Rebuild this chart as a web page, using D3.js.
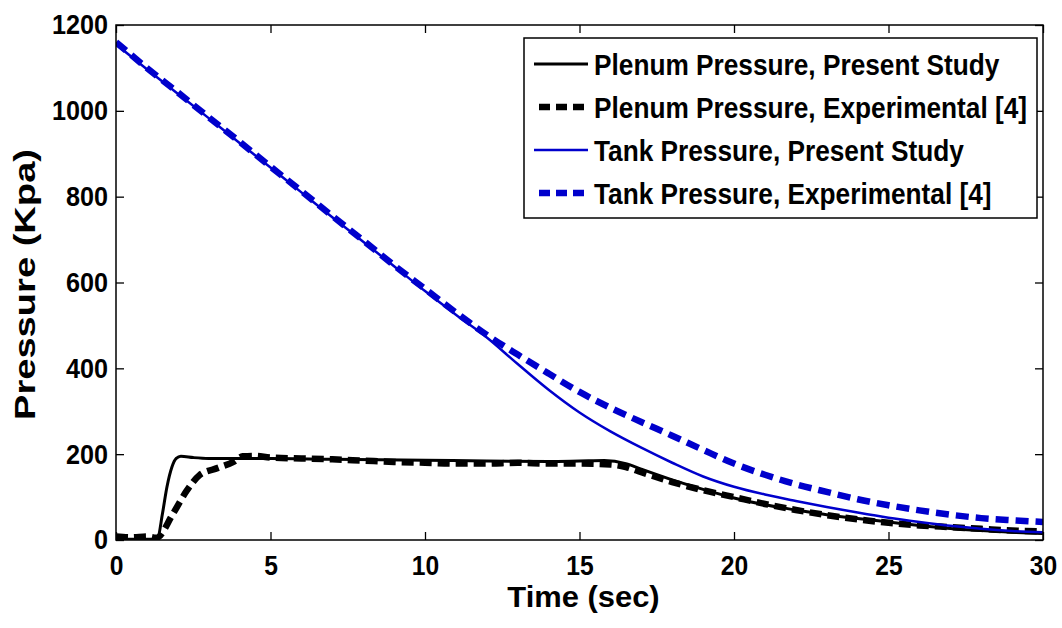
<!DOCTYPE html>
<html>
<head>
<meta charset="utf-8">
<script src="https://cdn.jsdelivr.net/npm/d3@7"></script>
<style>
  html, body { margin: 0; padding: 0; background: #fff; }
  svg { display: block; }
  text { font-family: "Liberation Sans", Arial, Helvetica, sans-serif; font-weight: bold; fill: #000; }
</style>
</head>
<body>
<svg id="chart" width="1062" height="628"></svg>
<script>
// ---- data ----
const plenumPresentT = [0, 1.2, 1.35, 1.5, 1.65, 1.81, 1.95, 2.1, 2.5, 3, 4, 5, 7, 10, 12, 14, 15, 15.8, 16.5, 17, 18, 19, 20, 21, 22, 23, 24, 25, 26, 27, 28, 29, 30];
const plenumPresentP = [2, 2, 5, 60, 124, 170, 190, 195, 192, 190, 190, 190, 188, 186, 184, 183, 184, 185, 178, 165, 140, 118, 98, 82, 70, 59, 50, 42, 34, 27, 22, 18, 15];

const plenumExpT = [0, 0.5, 1, 1.3, 1.85, 2.3, 2.7, 3.3, 3.8, 4.1, 4.5, 5, 6, 7, 8, 9, 10, 11, 12, 13, 14, 15, 16, 16.5, 17, 18, 19, 20, 21, 22, 23, 24, 25, 26, 27, 28, 29, 30];
const plenumExpP = [8, 6, 8, 5, 62, 116, 151, 168, 182, 195, 196, 192, 190, 188, 185, 182, 180, 178, 178, 180, 178, 178, 176, 170, 158, 135, 116, 100, 84, 70, 58, 48, 40, 34, 30, 26, 22, 20, 19];

const tankPresentT = [0, 1, 2, 3, 4, 5, 6, 7, 8, 9, 10, 11, 12, 13, 14, 15, 16, 17, 18, 19, 20, 21, 22, 23, 24, 25, 26, 27, 28, 29, 30];
const tankPresentP = [1155, 1097, 1040, 983, 925, 868, 810, 752, 695, 638, 580, 525, 472, 410, 350, 297, 253, 215, 180, 148, 124, 106, 91, 77, 64, 52, 42, 33, 26, 21, 18];

const tankExpT = [0, 1, 2, 3, 4, 5, 6, 7, 8, 9, 10, 11, 12, 13, 14, 15, 16, 17, 18, 19, 20, 21, 22, 23, 24, 25, 26, 27, 28, 29, 30];
const tankExpP = [1160, 1100, 1043, 985, 928, 870, 813, 755, 698, 640, 585, 530, 478, 432, 388, 345, 308, 275, 243, 210, 178, 152, 130, 112, 95, 81, 69, 59, 51, 46, 42];

const xTicks = [0, 5, 10, 15, 20, 25, 30];
const yTicks = [0, 200, 400, 600, 800, 1000, 1200];

const seriesNames = [
  "Plenum Pressure, Present Study",
  "Plenum Pressure, Experimental [4]",
  "Tank Pressure, Present Study",
  "Tank Pressure, Experimental [4]"
];
const xTitle = "Time (sec)";
const yTitle = "Pressure (Kpa)";

// ---- layout / style ----
const W = 1062, H = 628;
const plot = { left: 116, right: 1043, top: 25, bottom: 540 };
const styles = [
  { color: "#000000", width: 3, dash: null },
  { color: "#000000", width: 6.5, dash: "12,6" },
  { color: "#0000cc", width: 2.5, dash: null },
  { color: "#0000cc", width: 6.5, dash: "13,7" }
];

const svg = d3.select("#chart");
svg.append("rect").attr("width", W).attr("height", H).attr("fill", "#fff");

const x = d3.scaleLinear().domain([0, 30]).range([plot.left, plot.right]);
const y = d3.scaleLinear().domain([0, 1200]).range([plot.bottom, plot.top]);

function condense(sel, factor) {
  sel.each(function () {
    const len = this.getComputedTextLength();
    d3.select(this).attr("textLength", len * factor).attr("lengthAdjust", "spacingAndGlyphs");
  });
}

// clip
svg.append("defs").append("clipPath").attr("id", "clip")
  .append("rect").attr("x", plot.left).attr("y", plot.top)
  .attr("width", plot.right - plot.left).attr("height", plot.bottom - plot.top);

// series lines
const series = [
  [plenumPresentT, plenumPresentP],
  [plenumExpT, plenumExpP],
  [tankPresentT, tankPresentP],
  [tankExpT, tankExpP]
];
const line = d3.line().x(d => x(d[0])).y(d => y(d[1])).curve(d3.curveMonotoneX);
const gLines = svg.append("g").attr("clip-path", "url(#clip)");
series.forEach((s, i) => {
  const pts = s[0].map((t, k) => [t, s[1][k]]);
  const p = gLines.append("path").datum(pts)
    .attr("d", line)
    .attr("fill", "none")
    .attr("stroke", styles[i].color)
    .attr("stroke-width", styles[i].width)
    .attr("stroke-linejoin", "round");
  if (styles[i].dash) p.attr("stroke-dasharray", styles[i].dash).attr("stroke-linecap", "butt");
});

// axes
const tickLen = 8;
const gx = svg.append("g").attr("transform", `translate(0,${plot.bottom})`)
  .call(d3.axisBottom(x).tickValues(xTicks).tickSize(-tickLen).tickPadding(15).tickFormat(d3.format("d")));
const gxTop = svg.append("g").attr("transform", `translate(0,${plot.top})`)
  .call(d3.axisTop(x).tickValues(xTicks).tickSize(-tickLen).tickFormat(""));
const gy = svg.append("g").attr("transform", `translate(${plot.left},0)`)
  .call(d3.axisLeft(y).tickValues(yTicks).tickSize(-tickLen).tickPadding(8).tickFormat(d3.format("d")));
const gyRight = svg.append("g").attr("transform", `translate(${plot.right},0)`)
  .call(d3.axisRight(y).tickValues(yTicks).tickSize(-tickLen).tickFormat(""));

[gx, gxTop, gy, gyRight].forEach(g => {
  g.select(".domain").remove();
  g.selectAll(".tick line").attr("stroke", "#000").attr("stroke-width", 1.3);
  g.selectAll(".tick text").attr("font-size", 28).attr("fill", "#000")
    .style("font-family", '"Liberation Sans", Arial, sans-serif').style("font-weight", "bold");
});
condense(gx.selectAll(".tick text"), 0.88);
condense(gy.selectAll(".tick text"), 0.9);

// frame
svg.append("rect")
  .attr("x", plot.left).attr("y", plot.top)
  .attr("width", plot.right - plot.left).attr("height", plot.bottom - plot.top)
  .attr("fill", "none").attr("stroke", "#000").attr("stroke-width", 1.5);

// axis titles
const xt = svg.append("text")
  .attr("x", (plot.left + plot.right) / 2 + 4).attr("y", 607)
  .attr("text-anchor", "middle").attr("font-size", 30).text(xTitle);
condense(xt, 1.03);
const yt = svg.append("text")
  .attr("transform", `translate(35,${(plot.top + plot.bottom) / 2 + 2}) rotate(-90)`)
  .attr("text-anchor", "middle").attr("font-size", 30).text(yTitle);
condense(yt, 1.27);

// legend
const leg = { x: 524, y: 38, w: 513, h: 180, rowBase: 75, rowStep: 43, sx0: 534, sx1: 588, tx: 594, squeeze: 0.875 };
const gLeg = svg.append("g");
gLeg.append("rect").attr("x", leg.x).attr("y", leg.y).attr("width", leg.w).attr("height", leg.h)
  .attr("fill", "#fff").attr("stroke", "#000").attr("stroke-width", 1.5);
seriesNames.forEach((name, i) => {
  const base = leg.rowBase + i * leg.rowStep;
  const ly = base - 11;
  const l = gLeg.append("line")
    .attr("x1", leg.sx0 + (styles[i].dash ? 5 : 0)).attr("x2", leg.sx1)
    .attr("y1", ly).attr("y2", ly)
    .attr("stroke", styles[i].color)
    .attr("stroke-width", styles[i].width);
  if (styles[i].dash) l.attr("stroke-dasharray", "11,6");
  gLeg.append("text")
    .attr("transform", `translate(${leg.tx},${base}) scale(${leg.squeeze},1)`)
    .attr("x", 0).attr("y", 0).attr("font-size", 30).text(name);
});
</script>
</body>
</html>
